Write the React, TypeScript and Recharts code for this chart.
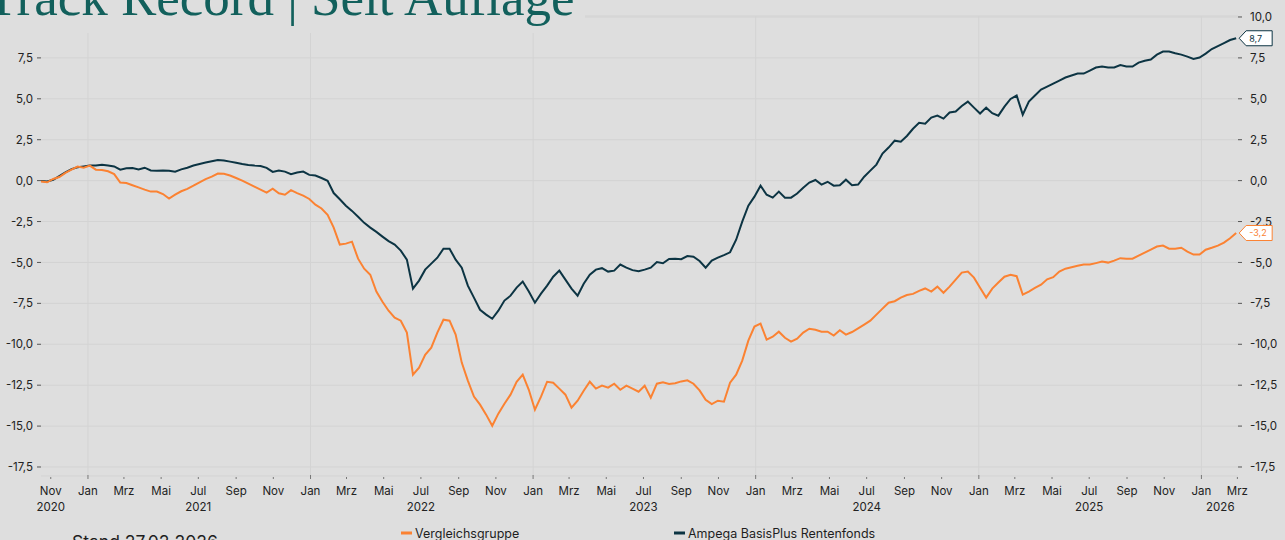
import React from 'react';
import { LineChart, Line, XAxis, YAxis, CartesianGrid, ReferenceLine } from 'recharts';

// Messpunkte alle 10 Tage, vom 16.10.2020 bis 27.02.2026
const START = Date.UTC(2020, 9, 16);
const DAY = 86400000;
const STEP_DAYS = 10;
const DOMAIN_END = Date.UTC(2026, 2, 2);

// Ampega BasisPlus Rentenfonds, Wertentwicklung in %
const fund = [
  -0.03, -0.05, 0.05, 0.28, 0.51, 0.7, 0.82, 0.87, 0.92, 0.92,
  0.97, 0.93, 0.87, 0.67, 0.75, 0.77, 0.68, 0.79, 0.62, 0.61,
  0.62, 0.61, 0.55, 0.69, 0.79, 0.92, 1.02, 1.11, 1.19, 1.26,
  1.23, 1.16, 1.09, 1.01, 0.96, 0.92, 0.89, 0.78, 0.53, 0.62,
  0.55, 0.39, 0.5, 0.55, 0.35, 0.31, 0.16, -0.01, -0.76, -1.14,
  -1.53, -1.85, -2.21, -2.58, -2.87, -3.13, -3.42, -3.7, -3.91, -4.28,
  -4.83, -6.6, -6.11, -5.44, -5.07, -4.71, -4.16, -4.16, -4.83, -5.32,
  -6.42, -7.15, -7.89, -8.19, -8.44, -7.95, -7.33, -7.03, -6.54, -6.17,
  -6.78, -7.46, -6.91, -6.42, -5.87, -5.5, -6.05, -6.6, -7.03, -6.3,
  -5.75, -5.44, -5.35, -5.56, -5.5, -5.13, -5.32, -5.47, -5.53, -5.44,
  -5.32, -4.98, -5.05, -4.79, -4.77, -4.8, -4.61, -4.65, -4.91, -5.32,
  -4.89, -4.71, -4.55, -4.38, -3.61, -2.51, -1.53, -0.98, -0.31, -0.86,
  -1.04, -0.67, -1.04, -1.04, -0.79, -0.43, -0.12, 0.04, -0.24, -0.07,
  -0.31, -0.28, 0.06, -0.28, -0.24, 0.24, 0.61, 0.98, 1.65, 2.02,
  2.44, 2.38, 2.73, 3.17, 3.53, 3.48, 3.85, 3.97, 3.79, 4.16,
  4.22, 4.56, 4.83, 4.46, 4.1, 4.46, 4.12, 3.97, 4.52, 4.99,
  5.2, 4.03, 4.83, 5.2, 5.56, 5.74, 5.93, 6.11, 6.3, 6.42,
  6.54, 6.54, 6.72, 6.91, 6.97, 6.91, 6.91, 7.06, 6.97, 6.97,
  7.21, 7.33, 7.4, 7.7, 7.89, 7.89, 7.78, 7.7, 7.58, 7.43,
  7.52, 7.76, 8.04, 8.22, 8.4, 8.59, 8.7,
];

// Vergleichsgruppe
const peer = [
  -0.06, -0.1, 0.1, 0.22, 0.47, 0.67, 0.86, 0.79, 0.92, 0.67,
  0.65, 0.57, 0.4, -0.12, -0.15, -0.28, -0.41, -0.55, -0.67, -0.67,
  -0.82, -1.1, -0.86, -0.65, -0.5, -0.31, -0.1, 0.09, 0.24, 0.43,
  0.42, 0.31, 0.16, 0.0, -0.18, -0.37, -0.55, -0.73, -0.49, -0.77,
  -0.86, -0.58, -0.76, -0.92, -1.12, -1.47, -1.7, -2.09, -2.87, -3.91,
  -3.85, -3.73, -4.77, -5.38, -5.75, -6.78, -7.4, -7.95, -8.37, -8.56,
  -9.29, -11.86, -11.43, -10.64, -10.21, -9.29, -8.5, -8.56, -9.41, -11.12,
  -12.22, -13.2, -13.69, -14.3, -14.98, -14.24, -13.63, -13.08, -12.29, -11.86,
  -12.78, -14.0, -13.2, -12.29, -12.35, -12.71, -13.08, -13.88, -13.45, -12.84,
  -12.29, -12.71, -12.53, -12.65, -12.41, -12.78, -12.53, -12.71, -12.9, -12.53,
  -13.26, -12.41, -12.32, -12.43, -12.38, -12.27, -12.2, -12.41, -12.82, -13.39,
  -13.66, -13.45, -13.51, -12.35, -11.86, -11.0, -9.78, -8.92, -8.74, -9.72,
  -9.54, -9.23, -9.6, -9.84, -9.66, -9.29, -9.05, -9.11, -9.23, -9.23,
  -9.47, -9.14, -9.41, -9.25, -9.03, -8.8, -8.56, -8.19, -7.82, -7.46,
  -7.37, -7.15, -6.99, -6.92, -6.74, -6.59, -6.78, -6.48, -6.85, -6.48,
  -6.05, -5.62, -5.56, -5.93, -6.54, -7.15, -6.6, -6.23, -5.87, -5.75,
  -5.84, -6.97, -6.78, -6.56, -6.36, -6.03, -5.9, -5.56, -5.38, -5.29,
  -5.2, -5.13, -5.13, -5.04, -4.95, -5.01, -4.89, -4.74, -4.77, -4.77,
  -4.58, -4.4, -4.22, -4.03, -3.97, -4.16, -4.16, -4.1, -4.34, -4.52,
  -4.52, -4.22, -4.1, -3.97, -3.79, -3.52, -3.2,
];

const MONTHS = ['Jan', 'Feb', 'Mrz', 'Apr', 'Mai', 'Jun', 'Jul', 'Aug', 'Sep', 'Okt', 'Nov', 'Dez'];
const YEARS = ['2020', '2021', '2022', '2023', '2024', '2025', '2026'];
const YEAR_POS = ['2020-11-01', '2021-07-01', '2022-07-01', '2023-07-01', '2024-07-01', '2025-07-01', '2026-02-01'];
const JAN_LINES = ['2021-01-01', '2022-01-01', '2023-01-01', '2024-01-01', '2025-01-01', '2026-01-01'];
// links verdeckt der Titel die 10,0
const Y_TICKS_LEFT = [-17.5, -15, -12.5, -10, -7.5, -5, -2.5, 0, 2.5, 5, 7.5];
const Y_TICKS_RIGHT = [-17.5, -15, -12.5, -10, -7.5, -5, -2.5, 0, 2.5, 5, 7.5, 10];
const Y_DOMAIN = [-18.05, 10.06];

const FUND_NAME = 'Ampega BasisPlus Rentenfonds';
const PEER_NAME = 'Vergleichsgruppe';
const NAVY = '#0c3443';
const ORANGE = '#fb8232';
const BG = '#dedede';
const FONT = 'Inter, "Liberation Sans", sans-serif';

// Monatsticks alle zwei Monate, Nov 2020 .. Mrz 2026
const monthTicks: number[] = [];
for (let y = 2020, m = 10; ; m += 2) {
  if (m > 11) { m -= 12; y += 1; }
  if (y > 2026 || (y === 2026 && m > 2)) break;
  monthTicks.push(Date.UTC(y, m, 1));
}

const yearTicks = YEAR_POS.map((d) => Date.parse(d));
const LAST = fund.length - 1;

const data = fund.map((v, i) => ({
  t: START + i * STEP_DAYS * DAY,
  fund: v,
  peer: peer[i],
}));

const fmt = (v: number) => v.toFixed(1).replace('.', ',');

const MonthTick = ({ x, y, payload }: any) => {
  const m = new Date(payload.value).getUTCMonth();
  return (
    <g>
      <line x1={x} x2={x} y1={m === 0 ? y - 1 : y + 1} y2={y + 3} stroke="#777" />
      <text x={x} y={y + 19} textAnchor="middle" fontSize={11.5} fill="#222" fontFamily={FONT}>
        {MONTHS[m]}
      </text>
    </g>
  );
};

const YearTick = ({ x, y, payload }: any) => {
  const idx = yearTicks.indexOf(payload.value);
  return (
    <text x={x} y={y + 11} textAnchor="middle" fontSize={11.5} fill="#222" fontFamily={FONT}>
      {YEARS[idx]}
    </text>
  );
};

const EndTag = ({ x, y, index, value, color }: any) => {
  if (index !== LAST || x == null) return null;
  const tx = x + 3;
  return (
    <g>
      <path
        d={`M${tx},${y} L${tx + 7},${y - 7.5} H${tx + 33} V${y + 7.5} H${tx + 7} Z`}
        fill="#fff"
        stroke={color}
        strokeWidth={1}
      />
      <text x={tx + 10} y={y + 3.3} fontSize={9} fill={color} fontFamily={FONT}>
        {fmt(value)}
      </text>
    </g>
  );
};

export default function App() {
  return (
    <div
      style={{
        position: 'fixed',
        left: 0,
        top: 0,
        width: 1285,
        height: 540,
        background: BG,
        overflow: 'hidden',
      }}
    >
      <LineChart
        width={1285}
        height={540}
        data={data}
        margin={{ top: 16, right: 0, bottom: 20, left: 0 }}
        style={{ fontFamily: FONT }}
      >
        <CartesianGrid vertical={false} yAxisId="r" stroke="#d3d3d3" />
        {JAN_LINES.map((d) => (
          <ReferenceLine key={d} x={Date.parse(d)} stroke="#d3d3d3" />
        ))}
        <XAxis
          dataKey="t"
          type="number"
          domain={[START, DOMAIN_END]}
          ticks={monthTicks}
          interval={0}
          tick={<MonthTick />}
          axisLine={false}
          tickLine={false}
          tickSize={0}
          tickMargin={0}
          height={24}
        />
        <XAxis
          xAxisId="yr"
          dataKey="t"
          type="number"
          domain={[START, DOMAIN_END]}
          ticks={yearTicks}
          interval={0}
          tick={<YearTick />}
          axisLine={false}
          tickLine={false}
          tickSize={0}
          tickMargin={0}
          height={20}
        />
        <YAxis
          domain={Y_DOMAIN}
          allowDataOverflow
          ticks={Y_TICKS_LEFT}
          interval={0}
          width={41}
          axisLine={false}
          tickLine={{ stroke: '#555' }}
          tickSize={4}
          tickMargin={4}
          tickFormatter={fmt}
          tick={{ fontSize: 11.5, fill: '#222' }}
        />
        <YAxis
          yAxisId="r"
          orientation="right"
          domain={Y_DOMAIN}
          allowDataOverflow
          ticks={Y_TICKS_RIGHT}
          interval={0}
          width={47}
          axisLine={false}
          tickLine={{ stroke: '#555' }}
          tickSize={4}
          tickMargin={8}
          tickFormatter={fmt}
          tick={{ fontSize: 11.5, fill: '#222', textAnchor: 'start' }}
        />
        <Line
          dataKey="fund"
          name={FUND_NAME}
          stroke={NAVY}
          strokeWidth={2}
          dot={false}
          isAnimationActive={false}
          label={(p: any) => <EndTag key="fund-tag" {...p} color={NAVY} />}
        />
        <Line
          dataKey="peer"
          name={PEER_NAME}
          stroke={ORANGE}
          strokeWidth={2}
          dot={false}
          isAnimationActive={false}
          label={(p: any) => <EndTag key="peer-tag" {...p} color={ORANGE} />}
        />
      </LineChart>

      <svg
        width={1285}
        height={540}
        style={{ position: 'absolute', left: 0, top: 0, pointerEvents: 'none' }}
      >
        <rect x={0} y={0} width={585} height={33} fill={BG} />
        <text x={-14} y={15} fontSize={53} fill="#12605c" fontFamily='"Liberation Serif", serif'>
          Track Record | Seit Auflage
        </text>
        <text x={72} y={548} fontSize={17.5} fill="#1e1e1e" fontFamily={FONT}>
          Stand 27.02.2026
        </text>
        <line x1={401} x2={412} y1={533} y2={533} stroke={ORANGE} strokeWidth={3} />
        <text x={415} y={537.5} fontSize={12.5} fill="#1e1e1e" fontFamily={FONT}>
          {PEER_NAME}
        </text>
        <line x1={674} x2={685} y1={533} y2={533} stroke={NAVY} strokeWidth={3} />
        <text x={688} y={537.5} fontSize={12.5} fill="#1e1e1e" fontFamily={FONT}>
          {FUND_NAME}
        </text>
      </svg>
    </div>
  );
}
